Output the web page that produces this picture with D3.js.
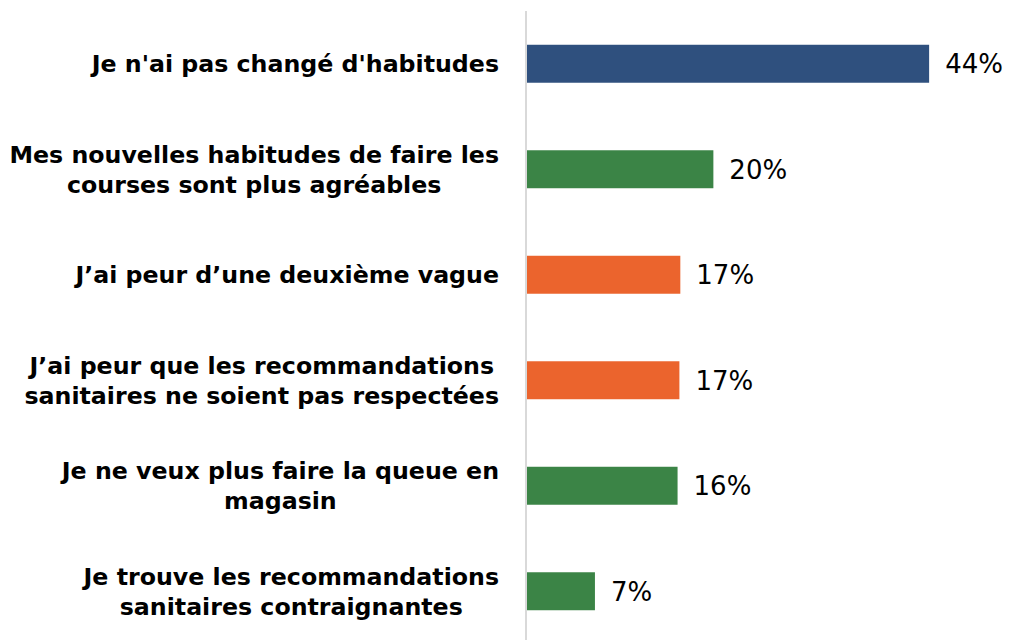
<!DOCTYPE html>
<html>
<head>
<meta charset="utf-8">
<script src="https://cdn.jsdelivr.net/npm/d3@7"></script>
<style>
  body { margin: 0; background: #fff; }
  svg { display: block; }
</style>
</head>
<body>
<svg id="chart" width="1009" height="640"></svg>
<script>
// categories, each split in the lines shown on the chart
var categories = [
  ["Je n'ai pas changé d'habitudes"],
  ["Mes nouvelles habitudes de faire les", "courses sont plus agréables"],
  ["J\u2019ai peur d\u2019une deuxième vague"],
  ["J\u2019ai peur que les recommandations", "sanitaires ne soient pas respectées"],
  ["Je ne veux plus faire la queue en", "magasin"],
  ["Je trouve les recommandations", "sanitaires contraignantes"]
];
var values = [43.8, 20.3, 16.7, 16.6, 16.4, 7.4];
var groups = ["same", "good", "fear", "fear", "good", "good"];

var colors = {same: "#2f507e", good: "#3b8446", fear: "#eb642d"};

var svg = d3.select("#chart"),
    left = 527, right = 1009,
    labelRight = 499;

var x = d3.scaleLinear().domain([0, 52.5]).range([left, right]);
var y = d3.scaleBand()
    .domain(d3.range(categories.length))
    .range([11, 644])
    .paddingInner(0.64)
    .paddingOuter(0.32);

// vertical axis line
svg.append("line")
    .attr("x1", left - 1).attr("x2", left - 1)
    .attr("y1", 11).attr("y2", 640)
    .attr("stroke", "#d9d9d9")
    .attr("stroke-width", 2);

var row = svg.selectAll(".row")
    .data(values)
    .enter()
    .append("g")
    .attr("class", "row");

row.append("rect")
    .attr("x", x(0))
    .attr("y", function (d, i) { return y(i); })
    .attr("width", function (d) { return x(d) - x(0); })
    .attr("height", y.bandwidth())
    .attr("fill", function (d, i) { return colors[groups[i]]; });

row.append("text")
    .attr("x", function (d) { return x(d) + 16; })
    .attr("y", function (d, i) { return y(i) + y.bandwidth() / 2; })
    .attr("dy", "0.36em")
    .attr("font-family", "'DejaVu Sans', sans-serif")
    .attr("font-size", "26px")
    .attr("fill", "#000")
    .text(function (d) { return Math.round(d) + "%"; });

// category labels: lines centred on each other, block right-aligned
var lineH = 30;
row.append("text")
    .attr("text-anchor", "middle")
    .attr("font-family", "'DejaVu Sans', sans-serif")
    .attr("font-weight", "bold")
    .attr("font-size", "23.7px")
    .attr("fill", "#000")
    .each(function (d, i) {
      var lines = categories[i],
          cy = y(i) + y.bandwidth() / 2,
          y0 = cy - (lines.length - 1) * lineH / 2;
      var spans = d3.select(this).selectAll("tspan")
          .data(lines)
          .enter()
          .append("tspan")
          .attr("y", function (l, k) { return y0 + k * lineH; })
          .attr("dy", "0.36em")
          .text(function (l) { return l; });
      var w = d3.max(spans.nodes(), function (n) { return n.getComputedTextLength(); });
      spans.attr("x", labelRight - w / 2);
    });
</script>
</body>
</html>
